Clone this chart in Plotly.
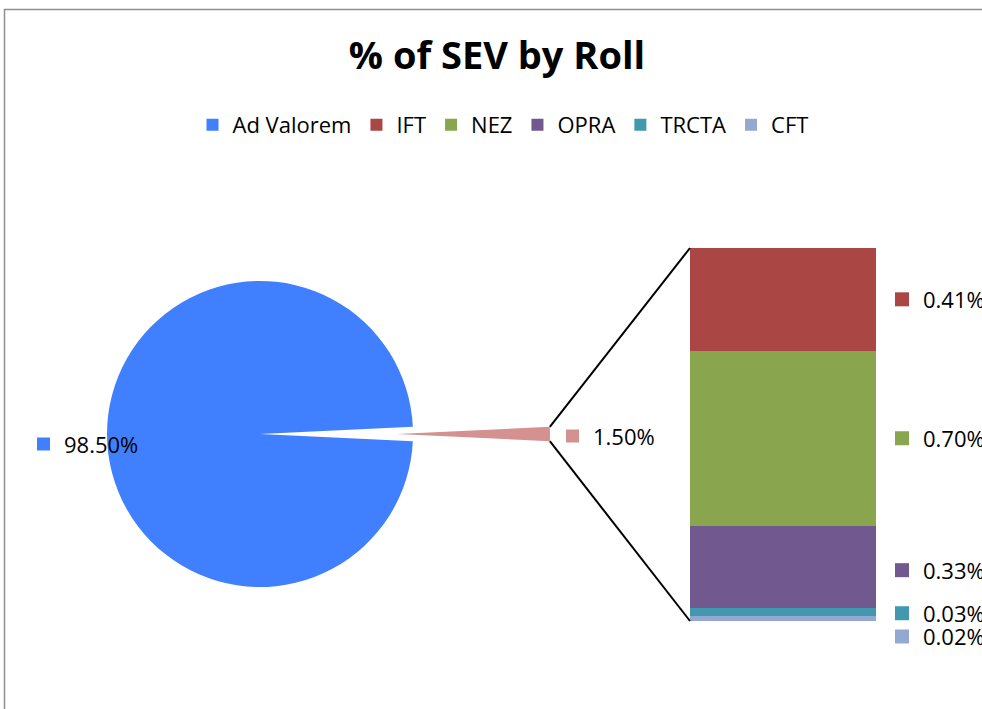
import math
import plotly.graph_objects as go

# ---------------- data ----------------
main_labels = ["Ad Valorem", "Other"]
main_values = [98.50, 1.50]
main_colors = ["#4080FF", "#D4918F"]

bar_labels = ["IFT", "NEZ", "OPRA", "TRCTA", "CFT"]          # top -> bottom
bar_values = [0.41, 0.70, 0.33, 0.03, 0.02]
bar_colors = ["#AA4643", "#89A54E", "#71588F", "#4198AF", "#93A9CF"]

title_text = "% of SEV by Roll"

# ---------------- layout geometry (pixels) ----------------
W, H = 982, 709
FONT = "Open Sans"
PIE_CX, PIE_CY, PIE_R = 260, 434, 153
PULL_PX = 137
BAR_X0, BAR_X1, BAR_Y0, BAR_Y1 = 690, 876, 248, 621
LABEL_SHIFT = [0, 0, 3, 1, 18]   # label nudges (px, downward) for crowded small segments


def fx(px):
    return px / W


def fy(py):
    return 1 - py / H


total = sum(main_values)
other_share = main_values[1] / total
rotation = 90 + other_share * 360 / 2

fig = go.Figure()

# main pie (the "Other" slice is left empty, it is drawn pulled out)
fig.add_trace(go.Pie(
    labels=main_labels, values=main_values, sort=False, direction="clockwise",
    rotation=rotation, textinfo="none", showlegend=False,
    marker=dict(colors=[main_colors[0], "rgba(0,0,0,0)"], line=dict(width=0)),
    domain=dict(x=[fx(PIE_CX - PIE_R), fx(PIE_CX + PIE_R)],
                y=[fy(PIE_CY + PIE_R), fy(PIE_CY - PIE_R)]),
))
# pulled-out "Other" slice
fig.add_trace(go.Pie(
    labels=main_labels, values=main_values, sort=False, direction="clockwise",
    rotation=rotation, textinfo="none", showlegend=False,
    marker=dict(colors=["rgba(0,0,0,0)", main_colors[1]], line=dict(width=0)),
    domain=dict(x=[fx(PIE_CX + PULL_PX - PIE_R), fx(PIE_CX + PULL_PX + PIE_R)],
                y=[fy(PIE_CY + PIE_R), fy(PIE_CY - PIE_R)]),
))

# stacked bar of the "Other" breakdown (bottom first)
for i in reversed(range(len(bar_labels))):
    fig.add_trace(go.Bar(
        x=["Other"], y=[bar_values[i]], name=bar_labels[i],
        marker=dict(color=bar_colors[i], line=dict(width=0)),
        legendrank=2 + i,
    ))

# legend entry for the main category
fig.add_trace(go.Scatter(
    x=[None], y=[None], mode="markers", name=main_labels[0],
    marker=dict(symbol="square", size=12, color=main_colors[0]),
    legendrank=1, hoverinfo="skip",
))

bar_total = sum(bar_values)
px_per_unit = (BAR_Y1 - BAR_Y0) / bar_total

annotations = []
shapes = []

# bar data labels (positions derived from the stacked values)
cum = 0.0
centers = {}
for i in reversed(range(len(bar_labels))):
    centers[i] = cum + bar_values[i] / 2
    cum += bar_values[i]
for i in range(len(bar_labels)):
    ly = BAR_Y1 - centers[i] * px_per_unit + LABEL_SHIFT[i]
    annotations.append(dict(
        x=fx(921), xref="paper", xanchor="left",
        y=fy(ly), yref="paper", yanchor="middle",
        text=f"{bar_values[i]:.2f}%", showarrow=False,
        font=dict(family=FONT, size=22, color="#000000"),
    ))
    shapes.append(dict(
        type="rect", xref="paper", yref="paper",
        x0=fx(895), x1=fx(909), y0=fy(ly + 7), y1=fy(ly - 7),
        fillcolor=bar_colors[i], line=dict(width=0),
    ))

# pie data labels
pie_label_pos = [(37, 62, 444), (566, 591, 436)]
for (sq_x, tx_x, ty), v, c in zip(pie_label_pos, main_values, main_colors):
    annotations.append(dict(
        x=fx(tx_x), xref="paper", xanchor="left",
        y=fy(ty), yref="paper", yanchor="middle",
        text=f"{v:.2f}%", showarrow=False,
        font=dict(family=FONT, size=22, color="#000000"),
    ))
    shapes.append(dict(
        type="rect", xref="paper", yref="paper",
        x0=fx(sq_x), x1=fx(sq_x + 13), y0=fy(ty + 6.5), y1=fy(ty - 6.5),
        fillcolor=c, line=dict(width=0),
    ))

# connector lines from the pulled slice edge to the bar
half = math.pi * other_share
ex = PIE_CX + PULL_PX + PIE_R * math.cos(half)
ey_top = PIE_CY - PIE_R * math.sin(half)
ey_bot = PIE_CY + PIE_R * math.sin(half)
for (y_from, y_to) in [(ey_top, BAR_Y0), (ey_bot, BAR_Y1)]:
    shapes.append(dict(
        type="line", xref="paper", yref="paper",
        x0=fx(ex), y0=fy(y_from), x1=fx(BAR_X0), y1=fy(y_to),
        line=dict(color="#000000", width=2),
    ))

# chart frame
shapes.append(dict(
    type="rect", xref="paper", yref="paper",
    x0=fx(4.5), y0=fy(9.5), x1=fx(W + 10), y1=fy(H + 10),
    line=dict(color="#8E8E8E", width=1.5), fillcolor="rgba(0,0,0,0)",
))

fig.update_layout(
    width=W, height=H,
    margin=dict(l=0, r=0, t=0, b=0),
    paper_bgcolor="#FFFFFF", plot_bgcolor="rgba(0,0,0,0)",
    font=dict(family=FONT, size=22, color="#000000"),
    title=dict(text=f"<b>{title_text}</b>", x=fx(497), xanchor="center",
               y=fy(56), yanchor="middle", yref="container",
               font=dict(family=FONT, size=38, color="#000000")),
    showlegend=True,
    legend=dict(orientation="h", x=fx(503), xanchor="center", y=fy(104), yanchor="top",
                font=dict(family=FONT, size=22, color="#000000"),
                bgcolor="rgba(0,0,0,0)", traceorder="normal"),
    barmode="stack", bargap=0,
    xaxis=dict(type="category", domain=[fx(BAR_X0), fx(BAR_X1)], range=[-0.5, 0.5],
               visible=False, fixedrange=True),
    yaxis=dict(domain=[fy(BAR_Y1), fy(BAR_Y0)], range=[0, bar_total], visible=False,
               fixedrange=True),
    annotations=annotations,
    shapes=shapes,
)

fig.write_html(
    "out.html",
    config={"displayModeBar": False},
    post_script="document.body.style.margin='0';document.body.style.overflow='hidden';",
)
